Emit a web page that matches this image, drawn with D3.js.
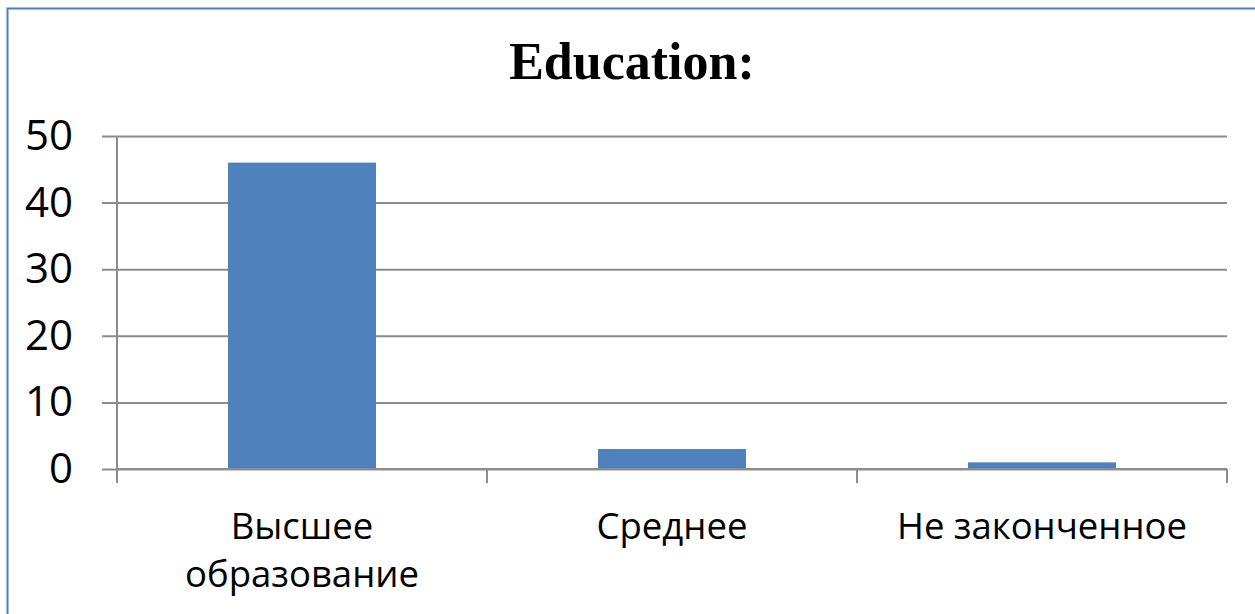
<!DOCTYPE html>
<html>
<head>
<meta charset="utf-8">
<script src="https://cdn.jsdelivr.net/npm/d3@7"></script>
<style>
  html, body { margin: 0; padding: 0; background: #fff; overflow: hidden; }
</style>
</head>
<body>
<div id="grafico"></div>
<script>
const WIDTH = 1255;
const HEIGHT = 614;

// data
const categories = ["Высшее образование", "Среднее", "Не законченное"];
const values = [46, 3, 1];
const yTicks = [0, 10, 20, 30, 40, 50];
const title = "Education:";

let svg = d3.select("#grafico")
    .append("svg")
    .attr("width", WIDTH)
    .attr("height", HEIGHT)
    .style("display", "block");

// outer frame: only the left and top edges are in view
svg.append("path")
    .attr("d", `M7.5,${HEIGHT}V8.5H${WIDTH}`)
    .style("fill", "none")
    .style("stroke", "#4a7ebb")
    .style("stroke-width", 2);

let plotLeft = 117, plotRight = 1227, plotTop = 136, plotBottom = 469;

let x = d3.scaleBand()
    .domain(categories)
    .range([plotLeft, plotRight])
    .padding(0);

let y = d3.scaleLinear()
    .domain([0, 50])
    .range([plotBottom, plotTop]);

svg.append("text")
    .attr("x", 632)
    .attr("y", 79)
    .attr("text-anchor", "middle")
    .style("font-family", "Liberation Serif")
    .style("font-weight", "bold")
    .style("font-size", "52px")
    .style("fill", "black")
    .text(title);

// gridlines + y labels
let yAxis = svg.append("g")
    .attr("transform", `translate(${plotLeft},0)`)
    .call(d3.axisLeft(y).tickValues(yTicks).tickSize(15).tickPadding(29));
yAxis.select(".domain").remove();
yAxis.selectAll(".tick line")
    .attr("x2", plotRight - plotLeft)
    .attr("x1", -15)
    .style("stroke", "#8c8c8c")
    .style("stroke-width", 2);
yAxis.selectAll(".tick text")
    .style("font-family", "Open Sans")
    .style("font-size", "42px")
    .style("fill", "black");

// y axis line
svg.append("line")
    .attr("x1", plotLeft).attr("x2", plotLeft)
    .attr("y1", plotTop).attr("y2", plotBottom)
    .style("stroke", "#8c8c8c")
    .style("stroke-width", 2);

// bars
svg.selectAll(".bar")
    .data(values)
    .enter()
    .append("rect")
    .attr("class", "bar")
    .attr("x", (d, i) => x(categories[i]) + x.bandwidth() * 0.3)
    .attr("width", x.bandwidth() * 0.4)
    .attr("y", d => y(d))
    .attr("height", d => y(0) - y(d))
    .style("fill", "#4f81bd");

// x axis
let xAxis = svg.append("g")
    .attr("transform", `translate(0,${plotBottom})`)
    .call(d3.axisBottom(x).tickSize(0).tickPadding(0).tickFormat(""));
xAxis.select(".domain")
    .attr("d", `M${plotLeft},0H${plotRight}`)
    .style("stroke", "#8c8c8c")
    .style("stroke-width", 2);
xAxis.selectAll(".tick").remove();

let bounds = [plotLeft].concat(categories.map(c => x(c) + x.bandwidth()));
svg.selectAll(".xtick")
    .data(bounds)
    .enter()
    .append("line")
    .attr("class", "xtick")
    .attr("x1", d => d).attr("x2", d => d)
    .attr("y1", plotBottom).attr("y2", plotBottom + 14)
    .style("stroke", "#8c8c8c")
    .style("stroke-width", 2);

// category labels, wrapped
svg.selectAll(".xlabel")
    .data(categories)
    .enter()
    .append("text")
    .attr("class", "xlabel")
    .attr("x", d => x(d) + x.bandwidth() / 2)
    .attr("y", 539)
    .attr("text-anchor", "middle")
    .style("font-family", "Open Sans")
    .style("font-size", "36.5px")
    .style("fill", "black")
    .each(function(d) {
        wrap(d3.select(this), d, 340);
    });

function wrap(text, str, maxW) {
    let words = str.split(" ");
    let cx = text.attr("x");
    let line = [];
    let tspan = text.append("tspan").attr("x", cx).attr("dy", 0);
    words.forEach(w => {
        line.push(w);
        tspan.text(line.join(" "));
        if (tspan.node().getComputedTextLength() > maxW && line.length > 1) {
            line.pop();
            tspan.text(line.join(" "));
            line = [w];
            tspan = text.append("tspan").attr("x", cx).attr("dy", 48).text(w);
        }
    });
}
</script>
</body>
</html>
